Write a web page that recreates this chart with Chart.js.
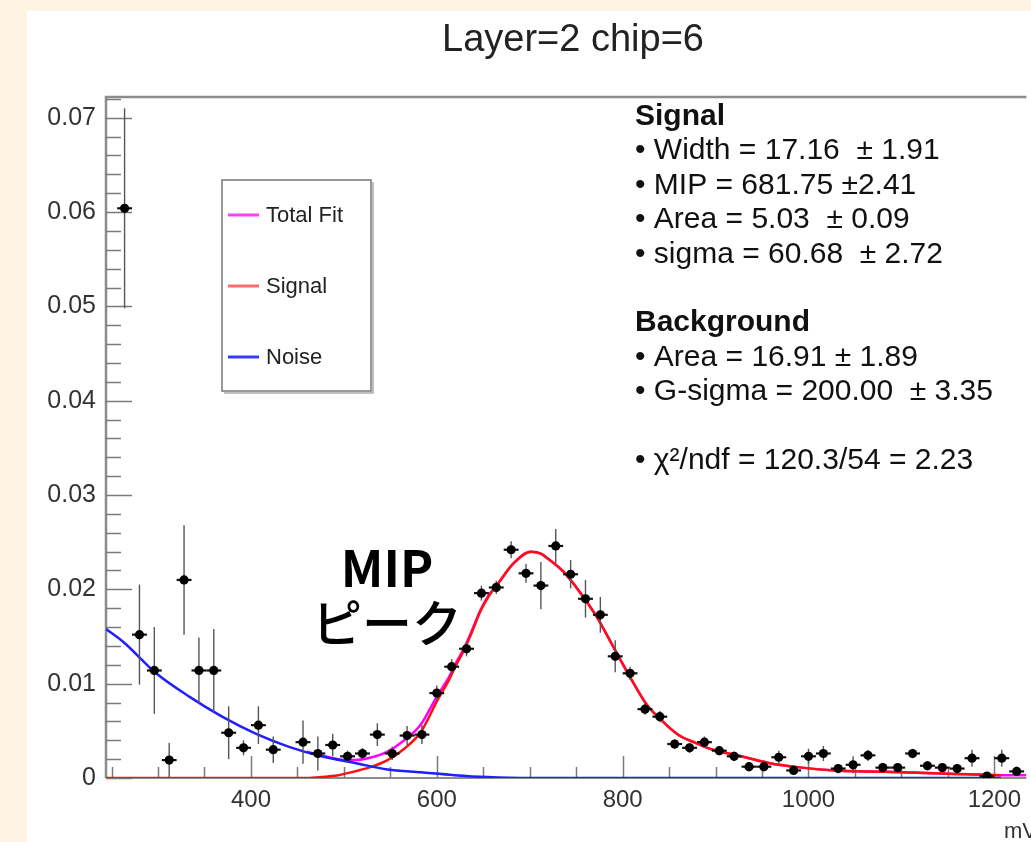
<!DOCTYPE html>
<html><head><meta charset="utf-8">
<script src="https://cdn.jsdelivr.net/npm/chart.js@4.4.0/dist/chart.umd.min.js"></script>
<style>
html,body{margin:0;padding:0;background:#fdf4e3;overflow:hidden}
canvas{display:block}
</style></head><body>
<canvas id="c" width="1031" height="842"></canvas>
<script>
// ---- data ----
const binX = [264,280,296,312,328,344,360,376,392,408,424,456,472,488,504,520,536,552,568,584,600,616,632,648,664,680,696,712,728,744,760,776,792,808,824,840,856,872,888,904,920,936,952,968,984,1000,1016,1032,1048,1064,1080,1096,1112,1128,1144,1160,1176,1192,1208,1224];
const binY = [0.0604,0.0152,0.0114,0.0019,0.0210,0.0114,0.0114,0.0048,0.0032,0.0056,0.0030,0.0038,0.0026,0.0035,0.0023,0.0026,0.0046,0.0026,0.0045,0.0046,0.0090,0.0118,0.0137,0.0196,0.0202,0.0242,0.0217,0.0204,0.0246,0.0216,0.0190,0.0173,0.0129,0.0111,0.0073,0.0065,0.0036,0.0032,0.0038,0.0029,0.0023,0.0012,0.0012,0.0022,0.0008,0.0023,0.0026,0.0010,0.0014,0.0024,0.0011,0.0011,0.0026,0.0013,0.0011,0.0010,0.0021,0.0002,0.0021,0.0007];
const binErr = [0.0106,0.0053,0.0046,0.0018,0.0058,0.0035,0.0044,0.0028,0.0008,0.0020,0.0014,0.0023,0.0018,0.0012,0.0006,0.0006,0.0012,0.0007,0.0010,0.0010,0.0008,0.0008,0.0008,0.0008,0.0007,0.0009,0.0010,0.0025,0.0018,0.0015,0.0020,0.0019,0.0017,0.0007,0.0006,0.0006,0.0005,0.0005,0.0006,0.0005,0.0005,0.0005,0.0005,0.0007,0.0004,0.0008,0.0008,0.0004,0.0009,0.0006,0.0004,0.0005,0.0005,0.0005,0.0004,0.0004,0.0009,0.0003,0.0009,0.0005];
const binHalfWidth = 8;

const noiseX = [244,263,298,334,369,405,441,476,512,547,583,619,654,700,800,1000,1207];
const noiseY = [0.0158,0.0144,0.0111,0.0086,0.0065,0.0047,0.0033,0.0023,0.0016,0.0009,0.0006,0.0003,0.0001,0,0,0,0];

const signalX = [244,400,460,476,494,512,530,547,565,583,601,612,620,630,638,647,656,665,683,701,712,719,736,754,772,790,808,825,843,861,879,897,914,932,957,993,1029,1064,1100,1135,1171,1207];
const signalY = [0,0,0,0.0001,0.0003,0.0007,0.0012,0.0019,0.0031,0.0049,0.0083,0.0102,0.0118,0.0137,0.0155,0.0177,0.0193,0.0205,0.0228,0.0240,0.0238,0.0233,0.0219,0.0197,0.0171,0.0139,0.0107,0.0079,0.0060,0.0045,0.0037,0.0030,0.0026,0.0022,0.0016,0.0011,0.0008,0.0007,0.0006,0.0005,0.0004,0.0003];

const totalX = [460,476,494,512,530,547,565,583,601,612,620,630,638,647,656,665,683,701,712,719,736,754,772,790,808,825,843,861,879,897,914,932,957,993,1029,1064,1100,1135,1171,1207,1234];
const totalY = [0.0028,0.0024,0.0020,0.0019,0.0022,0.0028,0.0040,0.0057,0.0088,0.0105,0.0121,0.0139,0.0157,0.0178,0.0194,0.0205,0.0228,0.0240,0.0238,0.0233,0.0219,0.0197,0.0171,0.0139,0.0107,0.0079,0.0060,0.0045,0.0037,0.0030,0.0026,0.0022,0.0016,0.0011,0.0008,0.0007,0.0006,0.0005,0.0004,0.0003,0.0003];

const xTickValues = [400,600,800,1000,1200];
const yTickValues = [0,0.01,0.02,0.03,0.04,0.05,0.06,0.07];

const titleText = 'Layer=2 chip=6';
const xAxisTitle = 'mV';
const statsLines = [
  {t:'Signal', bold:true},
  {t:'\u2022 Width = 17.16  \u00b1 1.91'},
  {t:'\u2022 MIP = 681.75 \u00b12.41'},
  {t:'\u2022 Area = 5.03  \u00b1 0.09'},
  {t:'\u2022 sigma = 60.68  \u00b1 2.72'},
  {t:''},
  {t:'Background', bold:true},
  {t:'\u2022 Area = 16.91 \u00b1 1.89'},
  {t:'\u2022 G-sigma = 200.00  \u00b1 3.35'},
  {t:''},
  {t:'\u2022 \u03c7\u00b2/ndf = 120.3/54 = 2.23'}
];
const annotation1 = 'MIP';
const annotation2 = '\u30d4\u30fc\u30af';

// ---- helpers ----
const pts = (xs, ys) => xs.map((x, i) => ({x, y: ys[i]}));
const FONT = "'Liberation Sans', Arial, sans-serif";

const bgPlugin = {
  id: 'bg',
  beforeDraw(chart) {
    const {ctx, width, height} = chart;
    ctx.save();
    ctx.fillStyle = '#fdf4e3';
    ctx.fillRect(0, 0, width, height);
    ctx.fillStyle = '#ffffff';
    ctx.fillRect(27, 11, width - 27, height - 11);
    ctx.restore();
  }
};

const axesPlugin = {
  id: 'rootAxes',
  beforeDatasetsDraw(chart) {
    const {ctx, chartArea: a, scales: {x, y}} = chart;
    ctx.save();
    ctx.strokeStyle = '#8c8c8c';
    ctx.lineWidth = 2.5;
    ctx.beginPath();
    ctx.moveTo(a.left, a.bottom); ctx.lineTo(a.left, a.top); ctx.lineTo(a.right, a.top);
    ctx.stroke();
    ctx.lineWidth = 2;
    ctx.beginPath(); ctx.moveTo(a.left, a.bottom); ctx.lineTo(a.right, a.bottom); ctx.stroke();
    ctx.lineWidth = 1.5;
    ctx.strokeStyle = '#7a7a7a';
    // y ticks: major every 0.01, minor every 0.002
    for (let i = 0; i <= 36; i++) {
      const v = i * 0.002;
      if (v > y.max) break;
      const py = Math.round(y.getPixelForValue(v)) + 0.5;
      const len = (i % 5 === 0) ? 26 : 15;
      ctx.beginPath(); ctx.moveTo(a.left, py); ctx.lineTo(a.left + len, py); ctx.stroke();
    }
    // x ticks: major every 200, minor every 50
    for (let v = 250; v <= x.max; v += 50) {
      const px = Math.round(x.getPixelForValue(v)) + 0.5;
      const len = (v % 200 === 0) ? 22 : 11;
      ctx.beginPath(); ctx.moveTo(px, a.bottom); ctx.lineTo(px, a.bottom - len); ctx.stroke();
    }
    ctx.restore();
  },
  beforeDatasetDraw(chart, args) {
    const ds = chart.data.datasets[args.index];
    if (ds.label !== 'Data') return;
    const {ctx, scales: {x, y}} = chart;
    ctx.save();
    for (let i = 0; i < binX.length; i++) {
      const px = x.getPixelForValue(binX[i]);
      const py = y.getPixelForValue(binY[i]);
      const top = y.getPixelForValue(binY[i] + binErr[i]);
      const bot = y.getPixelForValue(Math.max(0, binY[i] - binErr[i]));
      ctx.strokeStyle = '#555';
      ctx.lineWidth = 1.4;
      ctx.beginPath(); ctx.moveTo(px, top); ctx.lineTo(px, bot); ctx.stroke();
      const l = x.getPixelForValue(binX[i] - binHalfWidth);
      const r = x.getPixelForValue(binX[i] + binHalfWidth);
      ctx.strokeStyle = '#111';
      ctx.lineWidth = 2.2;
      ctx.beginPath(); ctx.moveTo(l, py); ctx.lineTo(r, py); ctx.stroke();
    }
    ctx.restore();
  }
};

const textPlugin = {
  id: 'texts',
  afterDraw(chart) {
    const {ctx} = chart;
    ctx.save();
    // title
    ctx.fillStyle = '#222';
    ctx.font = '38px ' + FONT;
    ctx.textAlign = 'center';
    ctx.textBaseline = 'alphabetic';
    ctx.fillText(titleText, 573, 51);
    // x axis title (cropped at right edge)
    ctx.font = '22px ' + FONT;
    ctx.textAlign = 'left';
    ctx.fillStyle = '#333';
    ctx.fillText(xAxisTitle, 1004, 838);
    // stats box text
    ctx.fillStyle = '#111';
    let yb = 125;
    statsLines.forEach(line => {
      ctx.font = (line.bold ? 'bold ' : '') + '30px ' + FONT;
      if (line.t) ctx.fillText(line.t, 635, yb);
      yb += 34.4;
    });
    // legend box
    const lx = 222, ly = 180, lw = 149, lh = 211;
    ctx.strokeStyle = '#777';
    ctx.lineWidth = 1.5;
    ctx.strokeRect(lx, ly, lw, lh);
    ctx.strokeStyle = '#aaa';
    ctx.beginPath(); ctx.moveTo(lx + 2, ly + lh + 2); ctx.lineTo(lx + lw + 2, ly + lh + 2); ctx.lineTo(lx + lw + 2, ly + 2); ctx.stroke();
    const entries = [
      {ds: 0, y: 215, c: '#ff40ff'},
      {ds: 1, y: 286, c: '#ff6a6a'},
      {ds: 2, y: 357, c: '#3a3aff'}
    ];
    ctx.font = '22px ' + FONT;
    ctx.textBaseline = 'middle';
    entries.forEach(e => {
      ctx.strokeStyle = e.c;
      ctx.lineWidth = 3;
      ctx.beginPath(); ctx.moveTo(228, e.y); ctx.lineTo(259, e.y); ctx.stroke();
      ctx.fillStyle = '#222';
      ctx.fillText(chart.data.datasets[e.ds].label, 266, e.y + 1);
    });
    // annotation
    ctx.fillStyle = '#000';
    ctx.textAlign = 'center';
    ctx.textBaseline = 'alphabetic';
    ctx.font = "bold 50px 'Noto Sans CJK JP', sans-serif";
    ctx.fillText(annotation1, 387, 587);
    ctx.font = "500 50px 'Noto Sans CJK JP', sans-serif";
    ctx.textBaseline = 'middle';
    ctx.fillText(annotation2, 387, 623);
    ctx.restore();
  }
};

new Chart(document.getElementById('c'), {
  type: 'scatter',
  data: {
    datasets: [
      {label: 'Total Fit', data: pts(totalX, totalY), showLine: true, borderColor: '#ff00ff', borderWidth: 2.5, pointRadius: 0, cubicInterpolationMode: 'monotone', order: 3},
      {label: 'Signal', data: pts(signalX, signalY), showLine: true, borderColor: '#ff1010', borderWidth: 2.5, pointRadius: 0, cubicInterpolationMode: 'monotone', order: 2},
      {label: 'Noise', data: pts(noiseX, noiseY), showLine: true, borderColor: '#1f1fff', borderWidth: 2.5, pointRadius: 0, cubicInterpolationMode: 'monotone', order: 1},
      {label: 'Data', data: pts(binX, binY), showLine: false, pointStyle: 'circle', pointRadius: 4.6, backgroundColor: '#000', borderWidth: 0, order: 0}
    ]
  },
  options: {
    responsive: false,
    animation: false,
    devicePixelRatio: 1,
    layout: {padding: {top: 97, left: 0, right: 0, bottom: 0}},
    plugins: {legend: {display: false}, title: {display: false}, tooltip: {enabled: false}},
    scales: {
      x: {
        type: 'linear', min: 244, max: 1234.5,
        border: {display: false},
        grid: {display: false, drawTicks: false},
        afterBuildTicks: s => { s.ticks = xTickValues.map(v => ({value: v})); },
        ticks: {autoSkip: false, maxRotation: 0, padding: 8, color: '#333', font: {family: FONT, size: 24},
          callback: v => String(Math.round(v))},
        afterFit: s => { s.height = 64; }
      },
      y: {
        type: 'linear', min: 0, max: 0.0722,
        border: {display: false},
        grid: {display: false, drawTicks: false},
        afterBuildTicks: s => { s.ticks = yTickValues.map(v => ({value: v})); },
        ticks: {padding: 10, color: '#333', font: {family: FONT, size: 25},
          callback: v => (Math.abs(v) < 1e-9 ? '0' : v.toFixed(2))},
        afterFit: s => { s.width = 106; }
      }
    }
  },
  plugins: [bgPlugin, axesPlugin, textPlugin]
});
</script>
</body></html>
